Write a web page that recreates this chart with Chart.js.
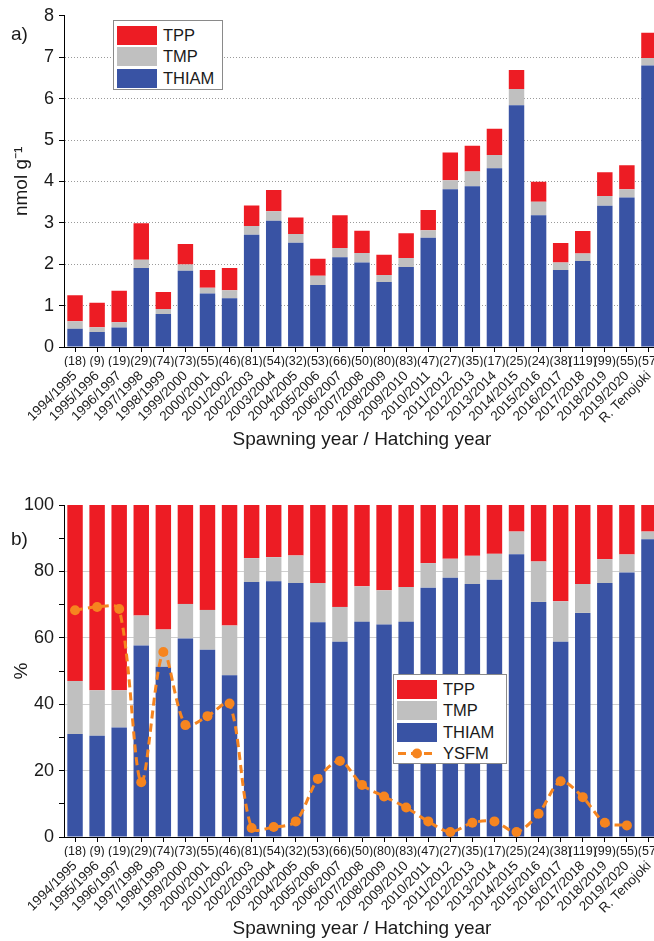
<!DOCTYPE html>
<html>
<head>
<meta charset="utf-8">
<script src="https://cdn.jsdelivr.net/npm/chart.js@4.4.1/dist/chart.umd.min.js"></script>
<style>
    body { margin: 0; width: 654px; height: 941px; overflow: hidden; background: #fff; position: relative; font-family: 'Liberation Sans', Arial, sans-serif; color: #1a1a1a; }
    canvas { position: absolute; left: 0; }
    #chart_a { top: 0; }
    #chart_b { top: 452px; }
    .panel_lbl { position: absolute; left: 11px; font-size: 19px; line-height: 19px; }
    .legend { position: absolute; border: 1px solid #8a8a8a; background: #fff; box-sizing: border-box; padding: 4px 0 0 3px; font-size: 16.5px; }
    .legend .row { height: 21.3px; display: flex; align-items: center; white-space: nowrap; }
    .legend .sw { width: 40px; height: 19px; margin-right: 6px; flex: none; }
</style>
</head>
<body>
<canvas id="chart_a" width="672" height="452"></canvas>
<canvas id="chart_b" width="672" height="489"></canvas>
<div class="panel_lbl" style="top:24px">a)</div>
<div class="panel_lbl" style="top:529px">b)</div>
<div class="legend" id="legend_a" style="left:113px; top:20px; width:110px; height:70px;"></div>
<div class="legend" id="legend_b" style="left:393px; top:674px; width:114px; height:90px;"></div>
<script>
const years = ['1994/1995', '1995/1996', '1996/1997', '1997/1998', '1998/1999', '1999/2000', '2000/2001',
    '2001/2002', '2002/2003', '2003/2004', '2004/2005', '2005/2006', '2006/2007', '2007/2008', '2008/2009',
    '2009/2010', '2010/2011', '2011/2012', '2012/2013', '2013/2014', '2014/2015', '2015/2016', '2016/2017',
    '2017/2018', '2018/2019', '2019/2020', 'R. Tenojoki'];
const counts = ['(18)', '(9)', '(19)', '(29)', '(74)', '(73)', '(55)', '(46)', '(81)', '(54)', '(32)', '(53)', '(66)',
    '(50)', '(80)', '(83)', '(47)', '(27)', '(35)', '(17)', '(25)', '(24)', '(38)', '(119)', '(99)', '(55)', '(57)'];

// a) nmol g-1
const thiam_nmol = [0.44, 0.36, 0.47, 1.91, 0.80, 1.84, 1.29, 1.18, 2.71, 3.05, 2.52, 1.50, 2.17, 2.04, 1.57, 1.93,
    2.64, 3.81, 3.88, 4.32, 5.84, 3.18, 1.86, 2.08, 3.41, 3.61, 6.80];
const tmp_nmol = [0.18, 0.12, 0.13, 0.20, 0.12, 0.15, 0.14, 0.19, 0.21, 0.23, 0.21, 0.22, 0.22, 0.23, 0.17, 0.22,
    0.18, 0.22, 0.36, 0.32, 0.39, 0.33, 0.18, 0.18, 0.24, 0.20, 0.18];
const tpp_nmol = [0.63, 0.59, 0.76, 0.88, 0.41, 0.50, 0.43, 0.54, 0.50, 0.51, 0.40, 0.41, 0.79, 0.54, 0.49, 0.60,
    0.49, 0.67, 0.62, 0.63, 0.46, 0.48, 0.47, 0.54, 0.57, 0.58, 0.61];

// b) %
const thiam_pct = [31.0, 30.5, 33.0, 57.7, 51.3, 59.8, 56.4, 48.7, 76.8, 77.0, 76.5, 64.7, 58.8, 64.8, 64.0, 64.8,
    75.1, 78.1, 76.2, 77.5, 85.2, 70.8, 58.8, 67.5, 76.5, 79.7, 89.7];
const tmp_pct = [16.0, 13.7, 11.2, 9.0, 11.2, 10.4, 12.0, 15.0, 7.2, 7.3, 8.3, 11.8, 10.5, 10.7, 10.3, 10.5,
    7.4, 5.7, 8.5, 7.8, 6.8, 12.2, 12.2, 8.7, 7.2, 5.4, 2.3];
const tpp_pct = [53.0, 55.8, 55.8, 33.3, 37.5, 29.8, 31.6, 36.3, 16.0, 15.7, 15.2, 23.5, 30.7, 24.5, 25.7, 24.7,
    17.5, 16.2, 15.3, 14.7, 8.0, 17.0, 29.0, 23.8, 16.3, 14.9, 8.0];
const ysfm_pct = [68.3, 69.3, 68.7, 16.5, 55.7, 33.7, 36.4, 40.2, 2.7, 3.0, 4.7, 17.5, 22.9, 15.7, 12.2, 8.9,
    4.7, 1.5, 4.3, 4.7, 1.5, 7.0, 16.8, 12.0, 4.3, 3.5, null];

const colors = { red: '#ed1c24', grey: '#c0c0c0', blue: '#3953a4', orange: '#f6851f' };

Chart.defaults.font.family = "'Liberation Sans', Arial, sans-serif";
Chart.defaults.color = '#1a1a1a';

function barSets(thiam, tmp, tpp) {
    return [
        { label: 'THIAM', data: thiam, backgroundColor: colors.blue },
        { label: 'TMP', data: tmp, backgroundColor: colors.grey },
        { label: 'TPP', data: tpp, backgroundColor: colors.red },
    ].map(d => Object.assign(d, { type: 'bar', order: 1, borderWidth: 0, barPercentage: 0.7, categoryPercentage: 1 }));
}

// two x axes: counts (flat) next to the plot, years (45 deg) below with the title
function xScales(x2Height) {
    return {
        x: {
            type: 'category', labels: counts, offset: true, stacked: true,
            grid: { drawOnChartArea: false, offset: false, tickLength: 5, tickColor: '#000' },
            border: { color: '#000', width: 1 },
            ticks: { autoSkip: false, minRotation: 0, maxRotation: 0, padding: 2, font: { size: 12.5 } },
            afterFit: (s) => { s.height = 20; }
        },
        x2: {
            type: 'category', axis: 'x', position: 'bottom', weight: 1, labels: years, offset: true,
            grid: { display: false, drawTicks: false },
            border: { display: false },
            ticks: { autoSkip: false, minRotation: 45, maxRotation: 45, padding: 1, font: { size: 13.5 } },
            title: { display: true, text: 'Spawning year / Hatching year', font: { size: 19 }, padding: { top: 0, bottom: 0 } },
            afterFit: (s) => { s.height = x2Height; }
        }
    };
}

function yScale(max, step, major, title, gridColor, dash) {
    return {
        stacked: true, min: 0, max: max,
        grid: {
            tickLength: 5, tickColor: '#000',
            color: (c) => {
                const v = c.tick ? c.tick.value : 0;
                return (v > 0 && v < max && Math.abs(v / major - Math.round(v / major)) < 1e-6) ? gridColor : 'rgba(0,0,0,0)';
            }
        },
        border: { color: '#000', width: 1, dash: dash },
        ticks: {
            stepSize: step, padding: 5, font: { size: 18 },
            callback: (v) => (Math.abs(v / major - Math.round(v / major)) < 1e-6 ? v : '')
        },
        title: { display: true, text: title, font: { size: 19 }, padding: { top: 4, bottom: 0 } },
        afterFit: (s) => { s.width = 58; }
    };
}

const baseOpts = { responsive: false, animation: false, devicePixelRatio: 1, maintainAspectRatio: false };
const plugins = { legend: { display: false }, tooltip: { enabled: false } };

const chartA = new Chart(document.getElementById('chart_a'), {
    type: 'bar',
    data: { labels: years, datasets: barSets(thiam_nmol, tmp_nmol, tpp_nmol) },
    options: Object.assign({}, baseOpts, {
        layout: { padding: { top: 15, left: 6, right: 12, bottom: 1 } },
        plugins: plugins,
        scales: Object.assign(xScales(84), { y: yScale(8, 0.5, 1, 'nmol g\u207B\u00B9', '#9a9a9a', [1, 2]) })
    })
});

const ysfm = {
    type: 'line', label: 'YSFM', data: ysfm_pct, order: 0, stack: 'ysfm',
    borderColor: colors.orange, borderWidth: 3, borderDash: [8, 5], tension: 0.3,
    pointRadius: 5, pointBackgroundColor: colors.orange, pointBorderWidth: 0, clip: false
};

const chartB = new Chart(document.getElementById('chart_b'), {
    type: 'bar',
    data: { labels: years, datasets: barSets(thiam_pct, tmp_pct, tpp_pct).concat([ysfm]) },
    options: Object.assign({}, baseOpts, {
        layout: { padding: { top: 53, left: 6, right: 12, bottom: 1 } },
        plugins: plugins,
        scales: Object.assign(xScales(83), { y: yScale(100, 10, 20, '%', '#cfcfcf', []) })
    })
});

// legends built from the datasets, top entry = top of the stack
function buildLegend(el, chart) {
    const sets = chart.data.datasets;
    const bars = sets.filter(d => d.type === 'bar').reverse();
    let html = '';
    bars.forEach(d => {
        html += '<div class="row"><span class="sw" style="background:' + d.backgroundColor + '"></span>' + d.label + '</div>';
    });
    sets.filter(d => d.type === 'line').forEach(d => {
        html += '<div class="row"><svg class="sw" viewBox="0 0 40 19">' +
            '<line x1="1" y1="9.5" x2="39" y2="9.5" stroke="' + d.borderColor + '" stroke-width="3" stroke-dasharray="8,5"/>' +
            '<circle cx="20" cy="9.5" r="5" fill="' + d.borderColor + '"/></svg>' + d.label + '</div>';
    });
    el.innerHTML = html;
}
buildLegend(document.getElementById('legend_a'), chartA);
buildLegend(document.getElementById('legend_b'), chartB);
</script>
</body>
</html>
